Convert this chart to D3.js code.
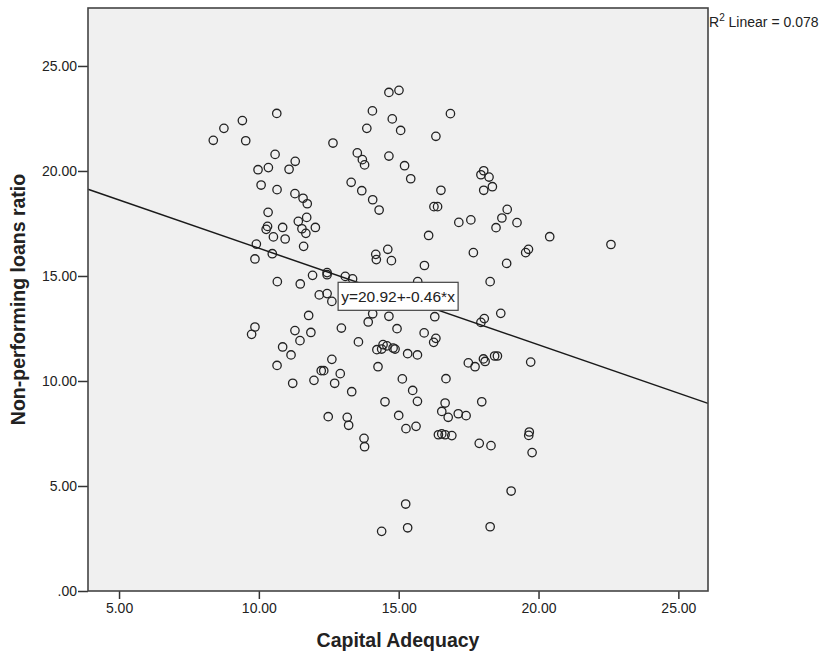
<!DOCTYPE html>
<html>
<head>
<meta charset="utf-8">
<script src="https://cdn.jsdelivr.net/npm/d3@7"></script>
<style>
  body { margin: 0; background: #fff; }
  text { font-family: Arial, "Liberation Sans", sans-serif; fill: #222; }
</style>
</head>
<body>
<div id="chart"></div>
<script>
// values (x = capital adequacy, y = NPL ratio)
const capitalAdequacy = [
  8.37, 8.75, 9.41, 9.53, 10.64, 12.65, 14.65, 15.01, 14.06, 14.77,
  13.86, 15.07, 16.85, 16.33, 10.58, 11.30, 9.97, 10.34, 11.08, 13.52,
  13.70, 13.78, 14.65, 15.21, 15.43, 10.08, 10.65, 11.29, 11.58, 11.73,
  13.30, 13.68, 14.07, 14.30, 16.51, 16.26, 16.39, 10.33, 11.71, 11.41,
  10.31, 10.26, 10.85, 11.54, 11.68, 12.02, 10.52, 10.94, 9.91, 11.60,
  9.86, 10.48, 16.07, 14.61, 14.18, 14.20, 14.74, 15.92, 18.04, 17.94,
  18.23, 18.35, 18.04, 18.88, 18.69, 18.48, 19.23, 17.15, 17.58, 20.40,
  22.59, 17.67, 19.64, 19.54, 18.86, 10.66, 11.48, 11.92, 12.44, 12.44,
  13.09, 13.35, 12.16, 12.44, 12.61, 11.78, 9.86, 9.74, 11.29, 11.86,
  11.47, 12.95, 13.56, 10.85, 11.15, 10.65, 12.61, 12.23, 12.32, 12.91,
  11.97, 11.21, 12.71, 13.32, 14.07, 13.91, 14.65, 14.94, 15.91, 14.22,
  14.39, 14.44, 14.58, 14.80, 14.87, 15.32, 15.67, 14.26, 15.13, 15.50,
  15.67, 14.51, 15.68, 18.27, 18.65, 18.06, 17.94, 16.29, 16.33, 16.25,
  17.49, 17.73, 18.03, 18.09, 18.43, 18.53, 19.72, 16.69, 16.66, 17.97,
  16.54, 16.77, 17.13, 17.41, 15.62, 16.42, 16.54, 16.66, 16.90, 17.88,
  18.30, 19.67, 19.65, 19.77, 19.02, 18.27, 12.48, 13.16, 13.21, 13.76,
  13.78, 15.00, 15.26, 15.25, 15.32, 14.39
];
const nplRatio = [
  21.46, 22.03, 22.40, 21.44, 22.74, 21.33, 23.74, 23.84, 22.86, 22.48,
  22.03, 21.93, 22.73, 21.65, 20.79, 20.46, 20.06, 20.16, 20.08, 20.86,
  20.54, 20.29, 20.71, 20.25, 19.63, 19.33, 19.11, 18.92, 18.70, 18.44,
  19.46, 19.06, 18.63, 18.14, 19.08, 18.30, 18.30, 18.03, 17.79, 17.60,
  17.36, 17.22, 17.31, 17.25, 17.03, 17.31, 16.86, 16.76, 16.52, 16.41,
  15.81, 16.06, 16.93, 16.27, 16.03, 15.78, 15.73, 15.50, 20.01, 19.82,
  19.71, 19.25, 19.08, 18.17, 17.76, 17.30, 17.54, 17.55, 17.67, 16.87,
  16.50, 16.11, 16.27, 16.11, 15.60, 14.73, 14.62, 15.03, 15.16, 15.06,
  14.98, 14.86, 14.10, 14.16, 13.79, 13.12, 12.57, 12.22, 12.40, 12.31,
  11.92, 12.52, 11.86, 11.62, 11.24, 10.74, 11.03, 10.49, 10.49, 10.35,
  10.03, 9.89, 9.89, 9.49, 13.20, 12.81, 13.08, 12.49, 12.29, 11.49,
  11.52, 11.73, 11.67, 11.57, 11.52, 11.30, 11.24, 10.68, 10.10, 9.55,
  9.03, 9.01, 14.73, 14.73, 13.22, 12.97, 12.79, 13.06, 12.03, 11.84,
  10.86, 10.68, 11.05, 10.93, 11.19, 11.19, 10.90, 10.11, 8.95, 9.01,
  8.55, 8.27, 8.44, 8.35, 7.84, 7.44, 7.48, 7.44, 7.40, 7.03,
  6.92, 7.57, 7.41, 6.59, 4.76, 3.06, 8.30, 8.27, 7.89, 7.27,
  6.87, 8.36, 7.73, 4.14, 3.01, 2.84
];
const points = capitalAdequacy.map((x, i) => ({ x, y: nplRatio[i] }));

const xTicks = [5, 10, 15, 20, 25];
const yTicks = [0, 5, 10, 15, 20, 25];
const xDomain = [3.89, 26.06];
const yDomain = [0, 27.76];

const fitIntercept = 20.92;
const fitSlope = -0.46;
const fitR2 = 0.078;

const xLabel = 'Capital Adequacy';
const yLabel = 'Non-performing loans ratio';

const W = 825, H = 657;
const plot = { left: 88, top: 8, right: 708, bottom: 591 };

const svg = d3.select('#chart').append('svg')
  .attr('width', W)
  .attr('height', H);

const x = d3.scaleLinear().domain(xDomain).range([plot.left, plot.right]);
const y = d3.scaleLinear().domain(yDomain).range([plot.bottom, plot.top]);

// SPSS style: .00, 5.00, 10.00 ...
const fmt = d => {
  const s = d3.format('.2f')(d);
  return s.startsWith('0.') ? s.slice(1) : s;
};

svg.append('rect')
  .attr('x', plot.left)
  .attr('y', plot.top)
  .attr('width', plot.right - plot.left)
  .attr('height', plot.bottom - plot.top)
  .attr('fill', '#f0f0f0');

const xAxis = svg.append('g')
  .attr('transform', `translate(0,${plot.bottom})`)
  .call(d3.axisBottom(x).tickValues(xTicks).tickSize(8).tickPadding(4).tickFormat(fmt));

const yAxis = svg.append('g')
  .attr('transform', `translate(${plot.left},0)`)
  .call(d3.axisLeft(y).tickValues(yTicks).tickSize(10).tickPadding(1).tickFormat(fmt));

[xAxis, yAxis].forEach(g => {
  g.select('.domain').remove();
  g.selectAll('.tick line').attr('stroke', '#333').attr('stroke-width', 1.5);
  g.selectAll('.tick text')
    .style('font-family', 'Arial, "Liberation Sans", sans-serif')
    .style('font-size', '14px')
    .attr('fill', '#222');
});

// points
svg.append('g')
  .selectAll('circle')
  .data(points)
  .enter()
  .append('circle')
  .attr('cx', d => x(d.x))
  .attr('cy', d => y(d.y))
  .attr('r', 4.2)
  .attr('fill', 'none')
  .attr('stroke', '#222')
  .attr('stroke-width', 1.3);

// fit line across the whole plot
const fit = v => fitIntercept + fitSlope * v;
svg.append('line')
  .attr('x1', x(xDomain[0]))
  .attr('y1', y(fit(xDomain[0])))
  .attr('x2', x(xDomain[1]))
  .attr('y2', y(fit(xDomain[1])))
  .attr('stroke', '#1a1a1a')
  .attr('stroke-width', 1.5);

// equation label, centred on the middle of the line
const midX = (xDomain[0] + xDomain[1]) / 2;
const lab = svg.append('g')
  .attr('transform', `translate(${x(midX)},${y(fit(midX))})`);
const labText = lab.append('text')
  .attr('text-anchor', 'middle')
  .attr('dy', '0.36em')
  .style('font-size', '15.5px')
  .text(`y=${fitIntercept.toFixed(2)}+${fitSlope.toFixed(2)}*x`);
const bb = labText.node().getBBox();
lab.insert('rect', 'text')
  .attr('x', bb.x - 3)
  .attr('y', -14)
  .attr('width', bb.width + 6)
  .attr('height', 28)
  .attr('fill', '#fff')
  .attr('stroke', '#444')
  .attr('stroke-width', 1.2);

// frame on top
svg.append('rect')
  .attr('x', plot.left)
  .attr('y', plot.top)
  .attr('width', plot.right - plot.left)
  .attr('height', plot.bottom - plot.top)
  .attr('fill', 'none')
  .attr('stroke', '#444')
  .attr('stroke-width', 1.6);

// R squared note
const r2 = svg.append('text')
  .attr('x', plot.right + 1)
  .attr('y', 27)
  .style('font-size', '14px');
r2.append('tspan').text('R');
r2.append('tspan').attr('dy', -6).style('font-size', '10px').text('2');
r2.append('tspan').attr('dy', 6).text(` Linear = ${fitR2.toFixed(3)}`);

// axis titles
svg.append('text')
  .attr('x', (plot.left + plot.right) / 2)
  .attr('y', 647)
  .attr('text-anchor', 'middle')
  .style('font-size', '19.5px')
  .style('font-weight', 'bold')
  .text(xLabel);

svg.append('text')
  .attr('transform', `translate(25,${(plot.top + plot.bottom) / 2}) rotate(-90)`)
  .attr('text-anchor', 'middle')
  .style('font-size', '19.5px')
  .style('font-weight', 'bold')
  .text(yLabel);
</script>
</body>
</html>
